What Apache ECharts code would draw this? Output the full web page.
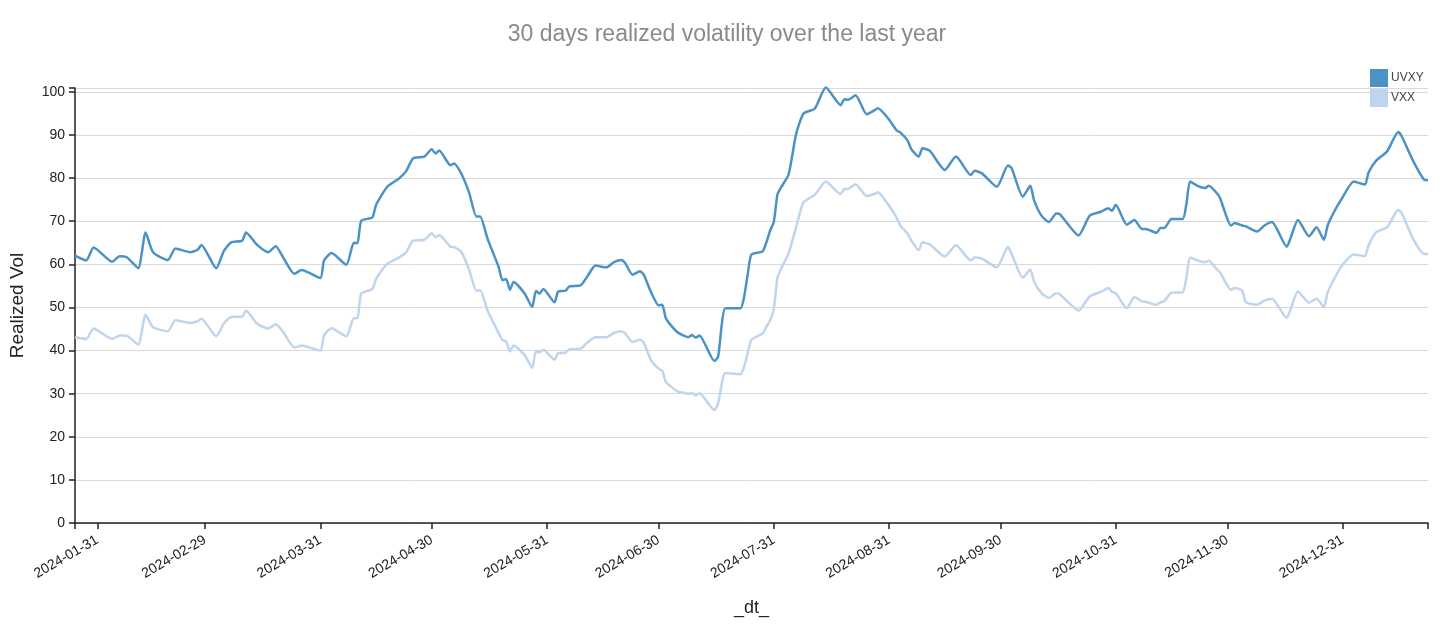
<!DOCTYPE html>
<html>
<head>
<meta charset="utf-8">
<title>30 days realized volatility</title>
<script src="https://cdn.jsdelivr.net/npm/echarts@6/dist/echarts.min.js"></script>
<style>
  html, body { margin: 0; padding: 0; background: #fff; }
  #chart { width: 1454px; height: 633px; }
</style>
</head>
<body>
<div id="chart"></div>
<script>
const dates = [
  '2024-01-25', '2024-01-28', '2024-01-30', '2024-02-04', '2024-02-06', '2024-02-08', '2024-02-11', '2024-02-13',
  '2024-02-15', '2024-02-19', '2024-02-21', '2024-02-25', '2024-02-27', '2024-02-28', '2024-03-03', '2024-03-05',
  '2024-03-07', '2024-03-10', '2024-03-11', '2024-03-14', '2024-03-17', '2024-03-19', '2024-03-21', '2024-03-24',
  '2024-03-26', '2024-03-31', '2024-04-01', '2024-04-03', '2024-04-07', '2024-04-09', '2024-04-10', '2024-04-11',
  '2024-04-14', '2024-04-15', '2024-04-18', '2024-04-21', '2024-04-23', '2024-04-25', '2024-04-28', '2024-04-30',
  '2024-05-01', '2024-05-02', '2024-05-05', '2024-05-06', '2024-05-08', '2024-05-10', '2024-05-12', '2024-05-13',
  '2024-05-15', '2024-05-18', '2024-05-19', '2024-05-20', '2024-05-21', '2024-05-22', '2024-05-25', '2024-05-27',
  '2024-05-28', '2024-05-29', '2024-05-30', '2024-06-02', '2024-06-03', '2024-06-05', '2024-06-06', '2024-06-09',
  '2024-06-11', '2024-06-13', '2024-06-16', '2024-06-18', '2024-06-20', '2024-06-21', '2024-06-23', '2024-06-25',
  '2024-06-26', '2024-06-28', '2024-06-30', '2024-07-01', '2024-07-02', '2024-07-05', '2024-07-08', '2024-07-09',
  '2024-07-10', '2024-07-11', '2024-07-15', '2024-07-16', '2024-07-18', '2024-07-22', '2024-07-23', '2024-07-24',
  '2024-07-25', '2024-07-28', '2024-07-29', '2024-07-30', '2024-07-31', '2024-08-01', '2024-08-02', '2024-08-04',
  '2024-08-06', '2024-08-08', '2024-08-11', '2024-08-14', '2024-08-18', '2024-08-19', '2024-08-20', '2024-08-22',
  '2024-08-25', '2024-08-27', '2024-08-28', '2024-08-31', '2024-09-02', '2024-09-03', '2024-09-05', '2024-09-06',
  '2024-09-08', '2024-09-09', '2024-09-11', '2024-09-15', '2024-09-18', '2024-09-22', '2024-09-23', '2024-09-25',
  '2024-09-29', '2024-10-02', '2024-10-03', '2024-10-06', '2024-10-08', '2024-10-09', '2024-10-11', '2024-10-13',
  '2024-10-15', '2024-10-16', '2024-10-21', '2024-10-24', '2024-10-27', '2024-10-29', '2024-10-30', '2024-10-31',
  '2024-11-03', '2024-11-05', '2024-11-07', '2024-11-08', '2024-11-11', '2024-11-12', '2024-11-13', '2024-11-15',
  '2024-11-18', '2024-11-19', '2024-11-20', '2024-11-22', '2024-11-24', '2024-11-25', '2024-11-27', '2024-11-28',
  '2024-12-01', '2024-12-02', '2024-12-04', '2024-12-05', '2024-12-08', '2024-12-10', '2024-12-12', '2024-12-16',
  '2024-12-17', '2024-12-19', '2024-12-22', '2024-12-24', '2024-12-26', '2024-12-27', '2024-12-29', '2024-12-31',
  '2025-01-03', '2025-01-06', '2025-01-07', '2025-01-09', '2025-01-12', '2025-01-15', '2025-01-16', '2025-01-19',
  '2025-01-22', '2025-01-23'
]

const uvxy = [
  62.0, 60.9, 63.9, 60.6, 61.9, 61.6, 59.1, 67.4,
  62.8, 61.0, 63.7, 62.8, 63.4, 64.5, 59.1, 63.0,
  65.1, 65.5, 67.4, 64.5, 62.8, 64.2, 61.6, 57.8,
  58.7, 56.8, 60.9, 62.6, 59.9, 65.0, 64.9, 70.1,
  70.9, 73.8, 78.0, 79.8, 81.5, 84.6, 85.0, 86.7,
  85.7, 86.4, 83.0, 83.4, 80.9, 76.7, 71.1, 71.1,
  65.9, 59.3, 56.3, 56.6, 54.1, 55.9, 53.2, 50.1,
  53.8, 53.2, 54.3, 51.2, 53.7, 53.9, 54.9, 55.1,
  57.4, 59.7, 59.3, 60.5, 61.0, 60.3, 57.6, 58.4,
  57.6, 53.5, 50.5, 50.6, 47.4, 44.3, 43.1, 43.6,
  43.0, 43.5, 37.6, 38.5, 49.8, 49.8, 52.4, 57.8,
  62.3, 63.0, 65.1, 67.8, 69.8, 76.3, 77.9, 80.9,
  90.2, 95.0, 96.1, 101.0, 96.9, 98.3, 98.2, 99.2,
  94.8, 95.7, 96.2, 93.6, 91.1, 90.6, 88.7, 86.7,
  85.0, 86.9, 86.3, 81.9, 85.0, 80.7, 81.7, 81.1,
  78.0, 82.9, 82.3, 75.7, 78.2, 74.9, 71.3, 69.8,
  71.8, 71.6, 66.7, 71.3, 72.2, 73.0, 72.4, 73.8,
  69.2, 70.3, 68.2, 68.2, 67.3, 68.4, 68.4, 70.5,
  70.5, 74.0, 79.2, 78.2, 77.7, 78.2, 76.7, 75.5,
  69.0, 69.6, 69.0, 68.8, 67.6, 69.0, 69.8, 64.1,
  66.0, 70.3, 66.5, 68.6, 65.7, 69.0, 72.6, 75.5,
  79.2, 78.5, 81.3, 84.0, 86.2, 90.7, 89.6, 84.0,
  79.6, 79.5
]

const vxx = [
  43.1, 42.7, 45.1, 42.7, 43.5, 43.4, 41.4, 48.3,
  45.4, 44.5, 47.0, 46.4, 46.8, 47.4, 43.3, 46.2,
  47.8, 47.9, 49.3, 46.2, 45.1, 46.1, 44.3, 40.7,
  41.2, 40.0, 43.5, 45.2, 43.3, 47.5, 47.5, 53.2,
  54.3, 56.6, 60.1, 61.5, 62.7, 65.5, 65.7, 67.2,
  66.3, 66.8, 64.1, 64.0, 62.8, 58.8, 53.9, 54.0,
  49.3, 44.0, 42.4, 42.1, 39.8, 41.2, 38.9, 36.0,
  39.8, 39.6, 40.2, 37.9, 39.4, 39.5, 40.3, 40.4,
  42.0, 43.1, 43.1, 44.1, 44.5, 44.0, 42.0, 42.5,
  41.9, 37.7, 35.8, 35.3, 32.7, 30.6, 30.0, 30.1,
  29.6, 30.1, 26.2, 27.7, 34.8, 34.5, 36.2, 39.5,
  42.5, 44.0, 45.5, 47.0, 49.7, 57.0, 59.0, 62.6,
  68.6, 74.4, 76.1, 79.2, 76.3, 77.5, 77.5, 78.6,
  75.8, 76.3, 76.7, 73.6, 70.9, 69.0, 67.1, 65.5,
  63.3, 65.1, 64.6, 61.8, 64.4, 60.9, 61.6, 61.3,
  59.3, 64.0, 62.4, 56.9, 58.8, 56.0, 53.3, 52.2,
  53.3, 53.0, 49.3, 52.6, 53.6, 54.5, 53.6, 53.3,
  49.8, 52.4, 51.4, 51.3, 50.6, 51.2, 51.4, 53.4,
  53.5, 57.0, 61.6, 60.9, 60.5, 60.9, 59.0, 58.2,
  54.1, 54.5, 53.9, 51.2, 50.6, 51.6, 52.0, 47.6,
  49.5, 53.7, 51.1, 52.0, 50.1, 53.5, 57.0, 59.9,
  62.3, 61.9, 64.4, 67.4, 68.6, 72.6, 71.8, 65.9,
  62.4, 62.4
]

const monthTicks = [
  '2024-01-31', '2024-02-29', '2024-03-31', '2024-04-30', '2024-05-31', '2024-06-30',
  '2024-07-31', '2024-08-31', '2024-09-30', '2024-10-31', '2024-11-30', '2024-12-31'
]
const yTicks = [0, 10, 20, 30, 40, 50, 60, 70, 80, 90, 100]

const xStart = '2024-01-25'
const xEnd = '2025-01-23'
const yTop = 100.9

const toTime = (s) => Date.UTC(+s.slice(0, 4), +s.slice(5, 7) - 1, +s.slice(8, 10))
const pad = (n) => (n < 10 ? '0' : '') + n
const fmtDate = (v) => {
  const d = new Date(v)
  return d.getUTCFullYear() + '-' + pad(d.getUTCMonth() + 1) + '-' + pad(d.getUTCDate())
}

const chart = echarts.init(document.getElementById('chart'))

const axisColor = '#222'
const font = "'Liberation Sans', Arial, Helvetica, sans-serif"

const option = {
  animation: false,
  textStyle: { fontFamily: font },
  title: {
    text: '30 days realized volatility over the last year',
    left: 'center',
    top: 18,
    textStyle: { fontSize: 23, fontWeight: 'normal', color: '#8a8a8a', fontFamily: font }
  },
  legend: {
    orient: 'vertical',
    left: 1370,
    top: 69,
    padding: 0,
    itemWidth: 18,
    itemHeight: 18,
    itemGap: 2,
    icon: 'rect',
    textStyle: { fontSize: 12, color: '#444', padding: [0, 0, 0, -2] },
    data: ['UVXY', 'VXX']
  },
  grid: { left: 75, right: 26, top: 88, bottom: 110 },
  xAxis: {
    type: 'value',
    min: toTime(xStart),
    max: toTime(xEnd),
    name: '_dt_',
    nameLocation: 'middle',
    nameGap: 76,
    nameTextStyle: { fontSize: 18, color: axisColor },
    splitLine: { show: false },
    axisLine: { lineStyle: { color: axisColor, width: 1.5 } },
    axisTick: {
      length: 6,
      lineStyle: { color: axisColor, width: 1.5 },
      customValues: [toTime(xStart)].concat(monthTicks.map(toTime), [toTime(xEnd)])
    },
    axisLabel: {
      rotate: 30,
      margin: 16,
      fontSize: 14,
      color: axisColor,
      customValues: monthTicks.map(toTime),
      formatter: (v) => fmtDate(v)
    }
  },
  yAxis: {
    type: 'value',
    min: 0,
    max: yTop,
    name: 'Realized Vol',
    nameLocation: 'middle',
    nameGap: 48,
    nameTextStyle: { fontSize: 19, color: axisColor },
    axisLine: { show: true, lineStyle: { color: axisColor, width: 1.5 } },
    axisTick: {
      show: true,
      length: 6,
      lineStyle: { color: axisColor, width: 1.5 },
      customValues: yTicks.concat([yTop])
    },
    axisLabel: {
      margin: 10,
      fontSize: 14,
      color: axisColor,
      customValues: yTicks
    },
    splitLine: { lineStyle: { color: '#d9d9d9', width: 1 } }
  },
  series: [
    {
      name: 'UVXY',
      type: 'line',
      data: dates.map((d, i) => [toTime(d), uvxy[i]]),
      showSymbol: false,
      smooth: 0.2,
      clip: false,
      color: '#4b93c5',
      lineStyle: { width: 2.5 },
      z: 3
    },
    {
      name: 'VXX',
      type: 'line',
      data: dates.map((d, i) => [toTime(d), vxx[i]]),
      showSymbol: false,
      smooth: 0.2,
      clip: false,
      color: '#bfd5ee',
      lineStyle: { width: 2.5 },
      z: 2
    }
  ]
}

chart.setOption(option)
</script>
</body>
</html>
